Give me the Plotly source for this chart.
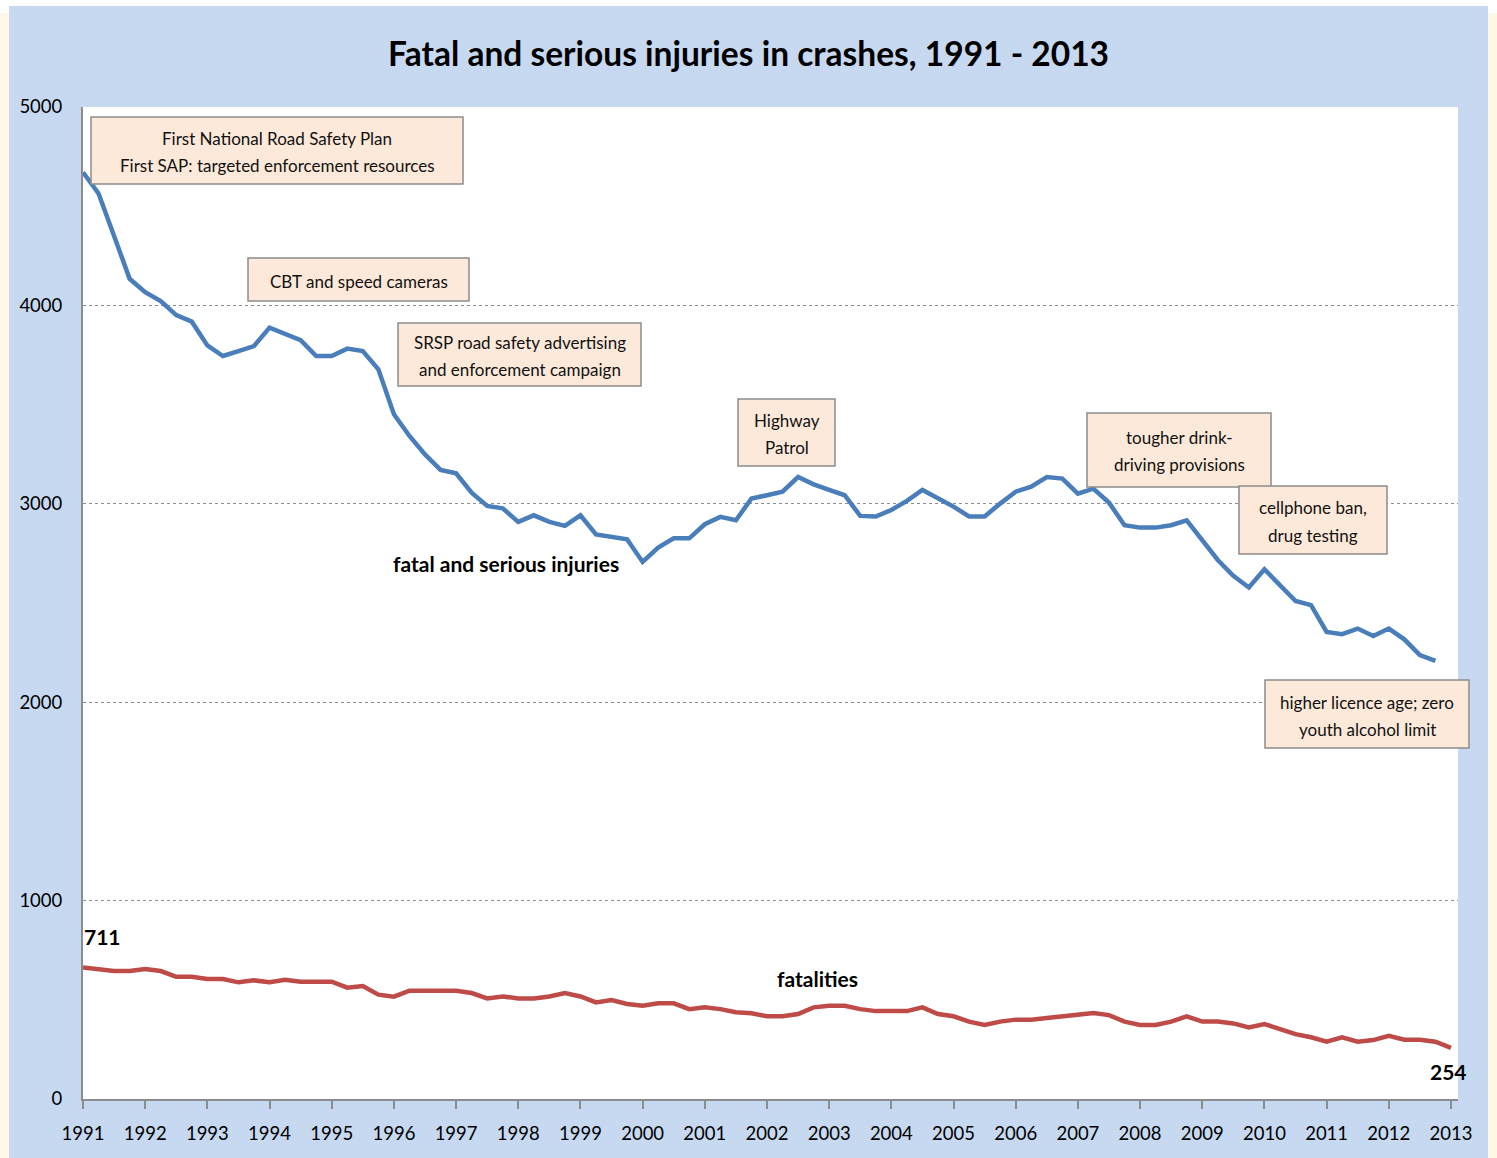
import plotly.graph_objects as go

# ---------------- data ----------------
start_year = 1991
years = list(range(1991, 2014))
year_labels = [str(y) for y in years]

# quarterly rolling annual totals
serious_injuries = [4671, 4564, 4350, 4134, 4067, 4022, 3951, 3918, 3798, 3745,
                    3770, 3795, 3888, 3859, 3825, 3745, 3745, 3782, 3770, 3678,
                    3451, 3342, 3249, 3171, 3154, 3056, 2989, 2977, 2909, 2942,
                    2909, 2889, 2942, 2846, 2835, 2821, 2707, 2779, 2826, 2826,
                    2897, 2934, 2917, 3026, 3043, 3061, 3135, 3098, 3070, 3043,
                    2939, 2936, 2969, 3015, 3070, 3031, 2986, 2936, 2936, 3001,
                    3061, 3086, 3135, 3127, 3051, 3076, 3006, 2892, 2880, 2880,
                    2892, 2917, 2821, 2717, 2637, 2578, 2670, 2589, 2510, 2489,
                    2354, 2343, 2371, 2334, 2371, 2317, 2237, 2208]

fatalities = [663, 655, 645, 645, 655, 645, 616, 616, 605, 605,
              588, 598, 588, 601, 591, 591, 591, 561, 569, 526,
              516, 546, 546, 546, 546, 534, 507, 517, 507, 507,
              517, 534, 517, 487, 499, 479, 470, 482, 482, 453,
              462, 453, 437, 432, 417, 417, 428, 462, 470, 470,
              453, 443, 443, 443, 462, 428, 417, 390, 373, 390,
              400, 400, 408, 417, 425, 433, 423, 390, 373, 373,
              390, 417, 390, 390, 381, 361, 378, 353, 327, 311,
              289, 311, 289, 297, 319, 299, 299, 289, 258]

x_inj = [start_year + i / 4 for i in range(len(serious_injuries))]
x_fat = [start_year + i / 4 for i in range(len(fatalities))]

events = [
    ["First National Road Safety Plan", "First SAP: targeted enforcement resources"],
    ["CBT and speed cameras"],
    ["SRSP road safety advertising", "and enforcement campaign"],
    ["Highway", "Patrol"],
    ["tougher drink-", "driving provisions"],
    ["cellphone ban,", "drug testing"],
    ["higher licence age; zero", "youth alcohol limit"],
]

# ---------------- layout helpers ----------------
W, H = 1497, 1158
L, R, T, B = 83, 1458, 107, 1099
FONT = "Lato, Carlito, Calibri, Roboto, sans-serif"
LINE_GAP = 27


def px(x):
    return (x - L) / (R - L)


def py(y):
    return (B - y) / (B - T)


fig = go.Figure()
fig.add_trace(go.Scatter(x=x_inj, y=serious_injuries, mode="lines",
                         line=dict(color="#4A7EBB", width=4.5), hoverinfo="x+y"))
fig.add_trace(go.Scatter(x=x_fat, y=fatalities, mode="lines",
                         line=dict(color="#BE4B48", width=4.5), hoverinfo="x+y"))

# event boxes: (x0, y0, x1, y1) in pixels
boxes = [
    (91, 117, 463, 184),
    (248, 258, 469, 301),
    (398, 323, 641, 386),
    (738, 399, 835, 466),
    (1087, 413, 1271, 487),
    (1239, 486, 1387, 554),
    (1265, 680, 1469, 748),
]

shapes = []
annotations = []
for lines, (x0, y0, x1, y1) in zip(events, boxes):
    shapes.append(dict(type="rect", xref="paper", yref="paper",
                       x0=px(x0), x1=px(x1), y0=py(y0), y1=py(y1),
                       fillcolor="#FDE9D9", line=dict(color="#8C8C8C", width=1.5),
                       layer="above"))
    cx, cy = (x0 + x1) / 2, (y0 + y1) / 2 + 1.5
    n = len(lines)
    for i, t in enumerate(lines):
        ly = cy + (i - (n - 1) / 2) * LINE_GAP
        annotations.append(dict(
            xref="paper", yref="paper", x=px(cx), y=py(ly),
            xanchor="center", yanchor="middle", text=t, showarrow=False,
            font=dict(family=FONT, size=17, color="#111111")))

labels = [
    ("fatal and serious injuries", 506, 563, 21),
    ("fatalities", 817, 978, 21),
    ("711", 102, 936, 21),
    ("254", 1448, 1071, 21),
]
for text, x, y, s in labels:
    annotations.append(dict(
        xref="paper", yref="paper", x=px(x), y=py(y), xanchor="center", yanchor="middle",
        text="<b>" + text + "</b>", showarrow=False,
        font=dict(family=FONT, size=s, color="#000000")))

annotations.append(dict(
    xref="paper", yref="paper", x=px(748), y=py(53), xanchor="center", yanchor="middle",
    text="<b>Fatal and serious injuries in crashes, 1991 - 2013</b>", showarrow=False,
    font=dict(family=FONT, size=33.5, color="#000000")))

shapes += [
    dict(type="rect", xref="paper", yref="paper", x0=px(0), x1=px(9), y0=py(13), y1=py(W),
         fillcolor="#FFF7E8", line=dict(width=0), layer="above"),
    dict(type="rect", xref="paper", yref="paper", x0=px(1488), x1=px(W), y0=py(13), y1=py(W),
         fillcolor="#FFF7E8", line=dict(width=0), layer="above"),
    dict(type="rect", xref="paper", yref="paper", x0=px(0), x1=px(W), y0=py(6), y1=py(-5),
         fillcolor="#FFFFFF", line=dict(width=0), layer="above"),
    dict(type="rect", xref="paper", yref="paper", x0=px(0), x1=px(9), y0=py(13), y1=py(6),
         fillcolor="#FFFFFF", line=dict(width=0), layer="above"),
    dict(type="rect", xref="paper", yref="paper", x0=px(1488), x1=px(W), y0=py(13), y1=py(6),
         fillcolor="#FFFFFF", line=dict(width=0), layer="above"),
]

fig.update_layout(
    width=W, height=H,
    margin=dict(l=L, r=W - R, t=T, b=H - B, pad=0),
    paper_bgcolor="#C6D9F1", plot_bgcolor="#FFFFFF",
    showlegend=False,
    font=dict(family=FONT, size=18, color="#000000"),
    annotations=annotations, shapes=shapes,
    xaxis=dict(range=[1991, 1991 + (R - L) / 62.18], tickvals=years, ticktext=year_labels,
               showgrid=False, zeroline=False, showline=True, linecolor="#8C8C8C", linewidth=2,
               ticks="outside", ticklen=8, tickwidth=2, tickcolor="#8C8C8C",
               tickfont=dict(family=FONT, size=18.5, color="#000000"), ticklabelstandoff=9),
    yaxis=dict(range=[0, 5000], tickvals=[0, 1000, 2000, 3000, 4000, 5000],
               showgrid=True, gridcolor="#8C8C8C", gridwidth=1, griddash="dot",
               zeroline=False, showline=True, linecolor="#8C8C8C", linewidth=2,
               ticks="", tickfont=dict(family=FONT, size=18.5, color="#000000"),
               ticklabelstandoff=15),
)

fig.write_html("out.html", config={"displayModeBar": False},
               post_script="document.body.style.margin='0';document.body.style.background='#FFFFFF';")
